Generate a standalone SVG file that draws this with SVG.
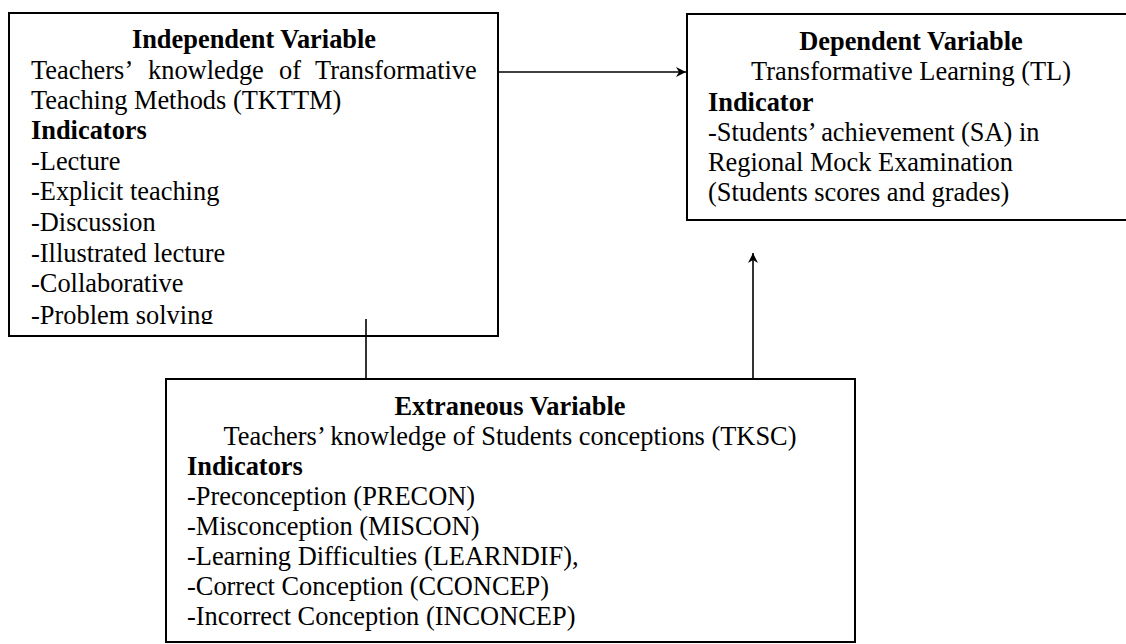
<svg xmlns="http://www.w3.org/2000/svg" width="1126" height="644" viewBox="0 0 1126 644">
<style>
.box{fill:#fff;stroke:#000;stroke-width:2}
.t{font-family:"Liberation Serif","Times New Roman",serif;font-size:26.4px;fill:#000}
.b{font-weight:bold}
.c{text-anchor:middle}
.conn{stroke:#000;stroke-width:1.6;fill:none}
</style>
<defs>
<marker id="ah" markerWidth="12" markerHeight="10" refX="10" refY="5" orient="auto" markerUnits="userSpaceOnUse">
<path d="M0,0 L10,5 L0,10 L3,5 z" fill="#000"/>
</marker>
<clipPath id="clip1"><rect x="9" y="13" width="489" height="311"/></clipPath>
</defs>
<rect width="1126" height="644" fill="#fff"/>
<g id="independent">
<rect class="box" x="9" y="13" width="489" height="323"/>
<g clip-path="url(#clip1)">
<text class="t b c" x="254" y="48">Independent Variable</text>
<text class="t" y="79"><tspan x="31">Teachers’</tspan><tspan x="148">knowledge</tspan><tspan x="279">of</tspan><tspan x="315">Transformative</tspan></text>
<text class="t" x="31" y="109">Teaching Methods (TKTTM)</text>
<text class="t b" x="31" y="139">Indicators</text>
<text class="t" x="31" y="170">-Lecture</text>
<text class="t" x="31" y="200">-Explicit teaching</text>
<text class="t" x="31" y="231">-Discussion</text>
<text class="t" x="31" y="262">-Illustrated lecture</text>
<text class="t" x="31" y="292">-Collaborative</text>
<text class="t" x="31" y="324">-Problem solving</text>
</g>
</g>
<g id="dependent">
<rect class="box" x="687" y="14" width="445" height="206"/>
<text class="t b c" x="911" y="50">Dependent Variable</text>
<text class="t c" x="911" y="80">Transformative Learning (TL)</text>
<text class="t b" x="708" y="111">Indicator</text>
<text class="t" x="708" y="141">-Students’ achievement (SA) in</text>
<text class="t" x="708" y="171">Regional Mock Examination</text>
<text class="t" x="708" y="201">(Students scores and grades)</text>
</g>
<g id="extraneous">
<rect class="box" x="166" y="379" width="689" height="263"/>
<text class="t b c" x="510" y="415">Extraneous Variable</text>
<text class="t c" x="510" y="445">Teachers’ knowledge of Students conceptions (TKSC)</text>
<text class="t b" x="187" y="475">Indicators</text>
<text class="t" x="187" y="505">-Preconception (PRECON)</text>
<text class="t" x="187" y="535">-Misconception (MISCON)</text>
<text class="t" x="187" y="565">-Learning Difficulties (LEARNDIF),</text>
<text class="t" x="187" y="595">-Correct Conception (CCONCEP)</text>
<text class="t" x="187" y="625">-Incorrect Conception (INCONCEP)</text>
</g>
<g id="connectors">
<line class="conn" x1="499" y1="72" x2="686" y2="72" marker-end="url(#ah)"/>
<line class="conn" x1="753" y1="378" x2="753" y2="253" marker-end="url(#ah)"/>
<line class="conn" x1="366" y1="319" x2="366" y2="378"/>
</g>
</svg>
